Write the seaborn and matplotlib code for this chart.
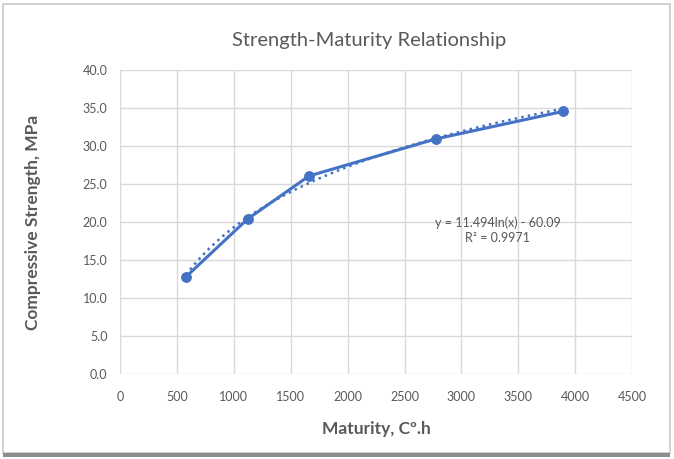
import pandas as pd
import matplotlib.pyplot as plt
import seaborn as sns
from matplotlib.patches import Rectangle

# values
maturity = [580, 1121, 1661, 2774, 3895]
strength = [12.8, 20.4, 26.06, 30.93, 34.56]
x_ticks = [0, 500, 1000, 1500, 2000, 2500, 3000, 3500, 4000, 4500]
y_ticks = [0, 5, 10, 15, 20, 25, 30, 35, 40]
trend_label = "y = 11.494ln(x) - 60.09\nR² = 0.9971"

BLUE = '#4472C4'
GREY_TXT = '#595959'

sns.set_theme(style="whitegrid")
plt.rcParams['font.family'] = ['Lato', 'DejaVu Sans']

df = pd.DataFrame({'maturity': maturity, 'strength': strength})

fig = plt.figure(figsize=(6.74, 4.59), dpi=100)
ax = fig.add_axes([0.178, 0.185, 0.76, 0.6625])

sns.lineplot(data=df, x='maturity', y='strength', ax=ax, color=BLUE,
             linewidth=2.2, marker='o', markersize=7,
             markeredgecolor=BLUE, zorder=3)
sns.regplot(data=df, x='maturity', y='strength', ax=ax, logx=True,
            scatter=False, ci=None,
            line_kws={'color': BLUE, 'linestyle': ':', 'linewidth': 1.8,
                      'zorder': 2})

ax.set_xlim(0, 4500)
ax.set_ylim(0, 40)
ax.set_xticks(x_ticks)
ax.set_yticks(y_ticks)
ax.set_yticklabels([f"{v:.1f}" for v in y_ticks])
ax.tick_params(axis='both', labelsize=9, colors=GREY_TXT, length=0)
ax.tick_params(axis='x', pad=12)
ax.tick_params(axis='y', pad=9)
ax.grid(True, color='#D9D9D9', linewidth=1)
for s in ax.spines.values():
    s.set_visible(False)

ax.set_xlabel('Maturity, Cº.h', fontsize=12.5, fontweight='bold',
              color=GREY_TXT, labelpad=13)
ax.set_ylabel('Compressive Strength, MPa', fontsize=12.5, fontweight='bold',
              color=GREY_TXT, labelpad=30)
fig.text(0.547, 0.912, 'Strength-Maturity Relationship', ha='center',
         va='center', fontsize=14.5, color=GREY_TXT)

ax.text(3320, 18.9, trend_label, ha='center', va='center', fontsize=9,
        color=GREY_TXT, linespacing=1.3)

# chart frame like the spreadsheet border
fig.patches.append(Rectangle((0.004, 0.012), 0.99, 0.98,
                             transform=fig.transFigure, fill=False,
                             edgecolor='#C8C8C8', linewidth=1.2))
fig.patches.append(Rectangle((0.004, 0.004), 0.99, 0.008,
                             transform=fig.transFigure, facecolor='#8C8C8C',
                             edgecolor='none'))

fig.savefig('out.png', dpi=100)
